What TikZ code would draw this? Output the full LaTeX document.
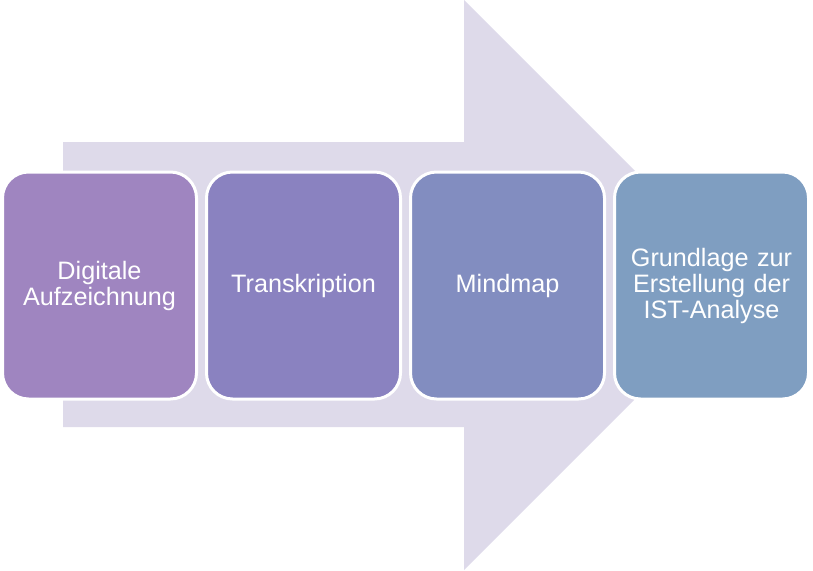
\documentclass[tikz,border=0pt]{standalone}
\usepackage{fontspec}
\setmainfont{Liberation Sans}
\begin{document}
\begin{tikzpicture}[x=1pt,y=-1pt,
  stepbox/.style={draw=white,line width=3pt,rounded corners=26pt,minimum width=194pt,minimum height=227pt,anchor=north west,inner sep=4pt,text=white,align=center,text width=180pt,font=\fontsize{25.2}{26}\selectfont}]
\definecolor{arrowc}{RGB}{222,218,234}
\definecolor{c1}{RGB}{159,133,192}
\definecolor{c2}{RGB}{138,130,192}
\definecolor{c3}{RGB}{130,141,192}
\definecolor{c4}{RGB}{127,158,193}
\useasboundingbox (0,0) rectangle (813,570);
\fill[arrowc] (63,142) -- (464,142) -- (464,0) -- (749,285) -- (464,570) -- (464,427) -- (63,427) -- cycle;
\node[stepbox,fill=c1] (a) at (1,170.5) {Digitale\\Aufzeichnung};
\node[stepbox,fill=c2] (b) at (205,170.5) {Transkription};
\node[stepbox,fill=c3] (c) at (409,170.5) {Mindmap};
\node[stepbox,fill=c4] (d) at (613,170.5) {Grundlage zur\\Erstellung der\\IST-Analyse};
\end{tikzpicture}
\end{document}
